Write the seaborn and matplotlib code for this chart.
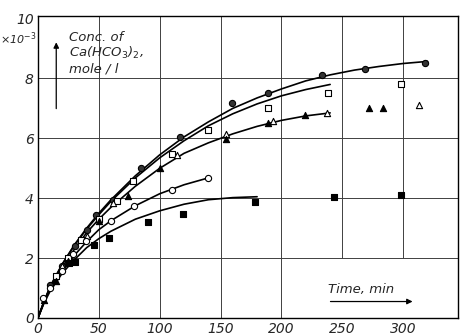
import seaborn as sns
import matplotlib.pyplot as plt
import pandas as pd

# measured points, time in min, conc. in 1e-3 mole/l
a_t = [10, 20, 30, 40, 48, 62, 85, 117, 159, 189, 233, 269, 318]
a_c = [1.1, 1.75, 2.4, 2.95, 3.43, 3.95, 5.0, 6.03, 7.17, 7.53, 8.1, 8.33, 8.53]

b_t = [15, 25, 35, 50, 65, 78, 110, 140, 189, 238, 298]
b_c = [1.4, 2.0, 2.6, 3.3, 3.9, 4.57, 5.47, 6.27, 7.0, 7.53, 7.8]

c_open_t = [20, 40, 62, 114.5, 154.5, 193, 237.5, 313]
c_open_c = [1.75, 2.75, 3.85, 5.43, 6.13, 6.57, 6.83, 7.13]
c_fill_t = [5, 15, 25, 50, 74, 100, 154.5, 189, 219, 272, 283.5]
c_fill_c = [0.6, 1.25, 1.9, 3.25, 4.07, 5.0, 5.97, 6.5, 6.77, 7.0, 7.0]

d_t = [4, 10, 20, 29, 39.5, 60, 79, 110, 139.5]
d_c = [0.67, 1.0, 1.57, 2.13, 2.57, 3.23, 3.73, 4.27, 4.67]

e_t = [25.5, 30, 46, 58, 90, 119, 178, 243, 298]
e_c = [1.83, 1.87, 2.43, 2.67, 3.2, 3.47, 3.87, 4.03, 4.1]

# drawn curves
ca_t = [0, 5, 10, 20, 30, 40, 50, 60, 80, 100, 120, 140, 160, 180, 200, 220, 240, 260, 280, 300, 320]
ca_c = [0, 0.55, 1.05, 1.8, 2.45, 3.0, 3.5, 3.95, 4.75, 5.45, 6.05, 6.55, 7.0, 7.35, 7.65, 7.92, 8.12, 8.28, 8.4, 8.5, 8.57]
cb_t = [0, 5, 10, 20, 30, 40, 50, 60, 80, 100, 120, 140, 160, 180, 200, 220, 240]
cb_c = [0, 0.55, 1.05, 1.8, 2.43, 2.97, 3.45, 3.9, 4.68, 5.35, 5.92, 6.42, 6.82, 7.15, 7.42, 7.63, 7.8]
cc_t = [0, 5, 10, 20, 30, 40, 50, 60, 80, 100, 120, 140, 160, 180, 200, 220, 240]
cc_c = [0, 0.55, 1.0, 1.7, 2.3, 2.85, 3.3, 3.7, 4.4, 5.0, 5.5, 5.85, 6.15, 6.4, 6.6, 6.75, 6.85]
cd_t = [0, 5, 10, 20, 30, 40, 50, 60, 80, 100, 120, 140]
cd_c = [0, 0.55, 0.95, 1.6, 2.1, 2.55, 2.95, 3.25, 3.75, 4.15, 4.45, 4.68]
ce_t = [0, 5, 10, 20, 30, 40, 50, 60, 80, 100, 120, 140, 160, 180]
ce_c = [0, 0.5, 0.9, 1.5, 1.95, 2.35, 2.65, 2.9, 3.3, 3.58, 3.8, 3.95, 4.02, 4.05]

x_ticks = [0, 50, 100, 150, 200, 250, 300]
y_ticks = [0, 2, 4, 6, 8, 10]

sns.set_style('white')
plt.rcParams['font.family'] = ['DejaVu Sans']

fig = plt.figure(figsize=(4.61, 3.36), dpi=100)
ax = fig.add_axes([0.0824, 0.0536, 0.911, 0.9])
ax.set_xlim(0, 345)
ax.set_ylim(0, 10.1)

# grid
for y in [2, 4, 6, 8]:
    ax.axhline(y, color='0.25', lw=0.7, zorder=0)
for x in [50, 100, 150, 200]:
    ax.axvline(x, color='0.25', lw=0.7, zorder=0)
for x in [250, 300]:
    ax.axvline(x, ymin=2 / 10.1, color='0.25', lw=0.7, zorder=0)

for t, c in [(ca_t, ca_c), (cb_t, cb_c), (cc_t, cc_c), (cd_t, cd_c), (ce_t, ce_c)]:
    sns.lineplot(x=t, y=c, ax=ax, color='black', lw=1.2, sort=False)

ms = 20
sns.scatterplot(x=a_t, y=a_c, ax=ax, marker='o', s=ms, color='0.2', edgecolor='black', linewidth=0.8, zorder=3)
sns.scatterplot(x=b_t, y=b_c, ax=ax, marker='s', s=ms - 4, facecolor='white', edgecolor='black', linewidth=0.8, zorder=3)
sns.scatterplot(x=c_open_t, y=c_open_c, ax=ax, marker='^', s=ms, facecolor='white', edgecolor='black', linewidth=0.8, zorder=3)
sns.scatterplot(x=c_fill_t, y=c_fill_c, ax=ax, marker='^', s=ms, color='black', edgecolor='black', linewidth=0.8, zorder=3)
sns.scatterplot(x=d_t, y=d_c, ax=ax, marker='o', s=ms, facecolor='white', edgecolor='black', linewidth=0.8, zorder=3)
sns.scatterplot(x=e_t, y=e_c, ax=ax, marker='s', s=ms - 4, color='black', edgecolor='black', linewidth=0.8, zorder=3)

ax.set_xticks(x_ticks)
ax.set_yticks(y_ticks)
ax.set_xticklabels([str(v) for v in x_ticks], fontstyle='italic', fontsize=10)
ax.set_yticklabels([str(v) for v in y_ticks], fontstyle='italic', fontsize=10)
ax.tick_params(length=0, pad=3)
for s in ax.spines.values():
    s.set_color('black')
    s.set_linewidth(1.0)

ax.text(-0.09, 0.908, r'$\times$10$^{-3}$', transform=ax.transAxes, fontsize=8, fontstyle='italic')
ax.text(0.075, 0.95, 'Conc. of\nCa(HCO$_3$)$_2$,\nmole / l', transform=ax.transAxes,
        fontsize=9.5, fontstyle='italic', va='top', linespacing=1.1)
ax.annotate('', xy=(15, 9.3), xytext=(15, 6.9),
            arrowprops=dict(arrowstyle='-|>', color='black', lw=0.9, mutation_scale=8))
ax.text(238, 0.85, 'Time, min', fontsize=9.5, fontstyle='italic')
ax.annotate('', xy=(310, 0.55), xytext=(238, 0.55),
            arrowprops=dict(arrowstyle='-|>', color='black', lw=0.9, mutation_scale=8))

fig.savefig('out.png', dpi=100)
